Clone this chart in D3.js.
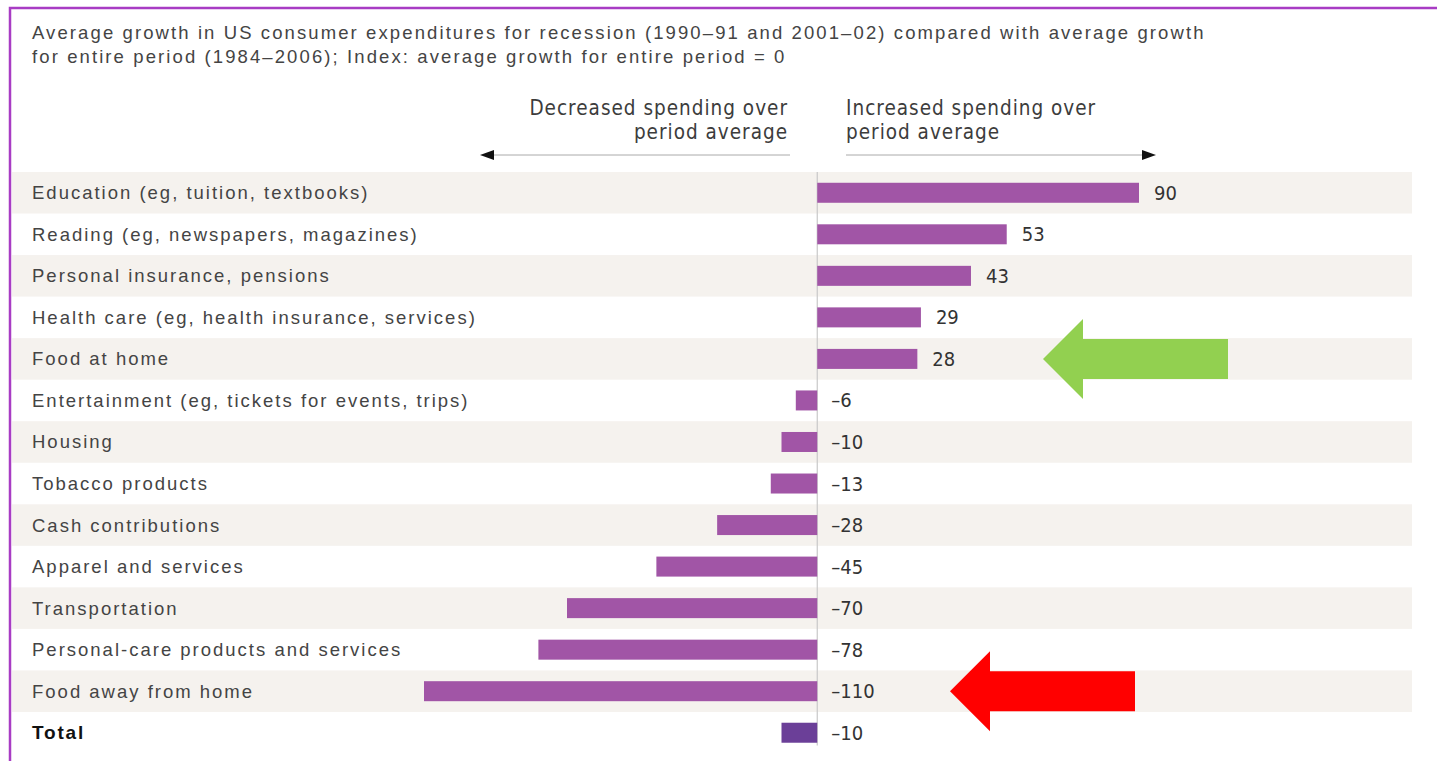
<!DOCTYPE html>
<html>
<head>
<meta charset="utf-8">
<script src="https://cdn.jsdelivr.net/npm/d3@7"></script>
<style>
  body { margin: 0; background: #fff; }
  svg { display: block; }
</style>
</head>
<body>
<svg id="canvas" width="1437" height="761"></svg>
<script>
let categories = [
  'Education (eg, tuition, textbooks)',
  'Reading (eg, newspapers, magazines)',
  'Personal insurance, pensions',
  'Health care (eg, health insurance, services)',
  'Food at home',
  'Entertainment (eg, tickets for events, trips)',
  'Housing',
  'Tobacco products',
  'Cash contributions',
  'Apparel and services',
  'Transportation',
  'Personal-care products and services',
  'Food away from home',
  'Total'
];
let values = [90, 53, 43, 29, 28, -6, -10, -13, -28, -45, -70, -78, -110, -10];

let titleLines = [
  'Average growth in US consumer expenditures for recession (1990\u201391 and 2001\u201302) compared with average growth',
  'for entire period (1984\u20132006); Index: average growth for entire period = 0'
];
let leftHead = ['Decreased spending over', 'period average'];
let rightHead = ['Increased spending over', 'period average'];

// highlighted rows (annotation arrows)
let greenRow = 'Food at home';
let redRow = 'Food away from home';

let canvas = d3.select('#canvas');
let labelFont = "'Liberation Sans', Arial, sans-serif";
let narrowFont = "'DejaVu Sans Condensed', 'Liberation Sans Narrow', sans-serif";

let x = d3.scaleLinear().domain([-110, 90]).range([424, 1139]);
let y = d3.scaleBand().domain(categories).range([172, 753.5]).paddingInner(0).paddingOuter(0);
let barH = 20;

// purple frame
canvas.append('path')
  .attr('d', 'M10,761 L10,8 L1437,8')
  .attr('fill', 'none')
  .attr('stroke', '#a83cc4')
  .attr('stroke-width', 2.5);

// title
canvas.selectAll('.title')
  .data(titleLines)
  .enter()
  .append('text')
  .attr('class', 'title')
  .attr('x', 32)
  .attr('y', (d, i) => 39 + i * 24)
  .attr('font-family', labelFont)
  .attr('font-size', 18.5)
  .attr('letter-spacing', 2.1)
  .attr('fill', '#444')
  .text(d => d);

// row bands
canvas.selectAll('.band')
  .data(categories.filter((d, i) => i % 2 === 0))
  .enter()
  .append('rect')
  .attr('class', 'band')
  .attr('x', 12)
  .attr('y', d => y(d))
  .attr('width', 1400)
  .attr('height', y.bandwidth())
  .attr('fill', '#f5f2ee');

// headings
canvas.selectAll('.lhead')
  .data(leftHead)
  .enter()
  .append('text')
  .attr('x', 788)
  .attr('y', (d, i) => 115 + i * 24)
  .attr('text-anchor', 'end')
  .attr('font-family', narrowFont)
  .attr('font-size', 20.5)
  .attr('letter-spacing', 1)
  .attr('fill', '#3c3c3c')
  .text(d => d);

canvas.selectAll('.rhead')
  .data(rightHead)
  .enter()
  .append('text')
  .attr('x', 846)
  .attr('y', (d, i) => 115 + i * 24)
  .attr('font-family', narrowFont)
  .attr('font-size', 20.5)
  .attr('letter-spacing', 1)
  .attr('fill', '#3c3c3c')
  .text(d => d);

// direction arrows
canvas.append('line')
  .attr('x1', 490).attr('x2', 790).attr('y1', 155).attr('y2', 155)
  .attr('stroke', '#aaa').attr('stroke-width', 1);
canvas.append('path')
  .attr('d', 'M480,155 L494,150 L494,160 Z')
  .attr('fill', '#111');
canvas.append('line')
  .attr('x1', 846).attr('x2', 1145).attr('y1', 155).attr('y2', 155)
  .attr('stroke', '#aaa').attr('stroke-width', 1);
canvas.append('path')
  .attr('d', 'M1156,155 L1142,150 L1142,160 Z')
  .attr('fill', '#111');

// zero line
canvas.append('line')
  .attr('x1', x(0)).attr('x2', x(0))
  .attr('y1', y.range()[0]).attr('y2', y.range()[1] - 8)
  .attr('stroke', '#c8c8c8')
  .attr('stroke-width', 1.2);

// category labels
canvas.selectAll('.cat')
  .data(categories)
  .enter()
  .append('text')
  .attr('class', 'cat')
  .attr('x', 32)
  .attr('y', d => y(d) + y.bandwidth() / 2)
  .attr('dy', '0.35em')
  .attr('font-family', labelFont)
  .attr('font-size', d => d === 'Total' ? 19 : 18.5)
  .attr('letter-spacing', d => d === 'Total' ? 1.8 : 2)
  .attr('font-weight', d => d === 'Total' ? 'bold' : 'normal')
  .attr('fill', d => d === 'Total' ? '#111' : '#444')
  .text(d => d);

// bars
canvas.selectAll('.bar')
  .data(categories)
  .enter()
  .append('rect')
  .attr('class', 'bar')
  .attr('x', (d, i) => x(Math.min(0, values[i])))
  .attr('y', d => y(d) + (y.bandwidth() - barH) / 2)
  .attr('width', (d, i) => Math.abs(x(values[i]) - x(0)))
  .attr('height', barH)
  .attr('fill', d => d === 'Total' ? '#6b3f98' : '#a155a6');

// value labels
canvas.selectAll('.val')
  .data(categories)
  .enter()
  .append('text')
  .attr('class', 'val')
  .attr('x', (d, i) => values[i] > 0 ? x(values[i]) + 15 : x(0) + 14)
  .attr('y', d => y(d) + y.bandwidth() / 2)
  .attr('dy', '0.35em')
  .attr('font-family', narrowFont)
  .attr('font-size', 20)
  .attr('fill', '#333')
  .text((d, i) => values[i] < 0 ? '\u2013' + Math.abs(values[i]) : values[i]);

// annotation arrows pointing at highlighted rows
let drawArrow = (row, tipX, color) => {
  let cy = y(row) + y.bandwidth() / 2;
  let headW = 40, bodyW = 145, headH = 40, bodyH = 20;
  let p = d3.path();
  p.moveTo(tipX, cy);
  p.lineTo(tipX + headW, cy - headH);
  p.lineTo(tipX + headW, cy - bodyH);
  p.lineTo(tipX + headW + bodyW, cy - bodyH);
  p.lineTo(tipX + headW + bodyW, cy + bodyH);
  p.lineTo(tipX + headW, cy + bodyH);
  p.lineTo(tipX + headW, cy + headH);
  p.closePath();
  canvas.append('path').attr('d', p.toString()).attr('fill', color);
};
drawArrow(greenRow, 1043, '#92d050');
drawArrow(redRow, 950, '#ff0000');
</script>
</body>
</html>
